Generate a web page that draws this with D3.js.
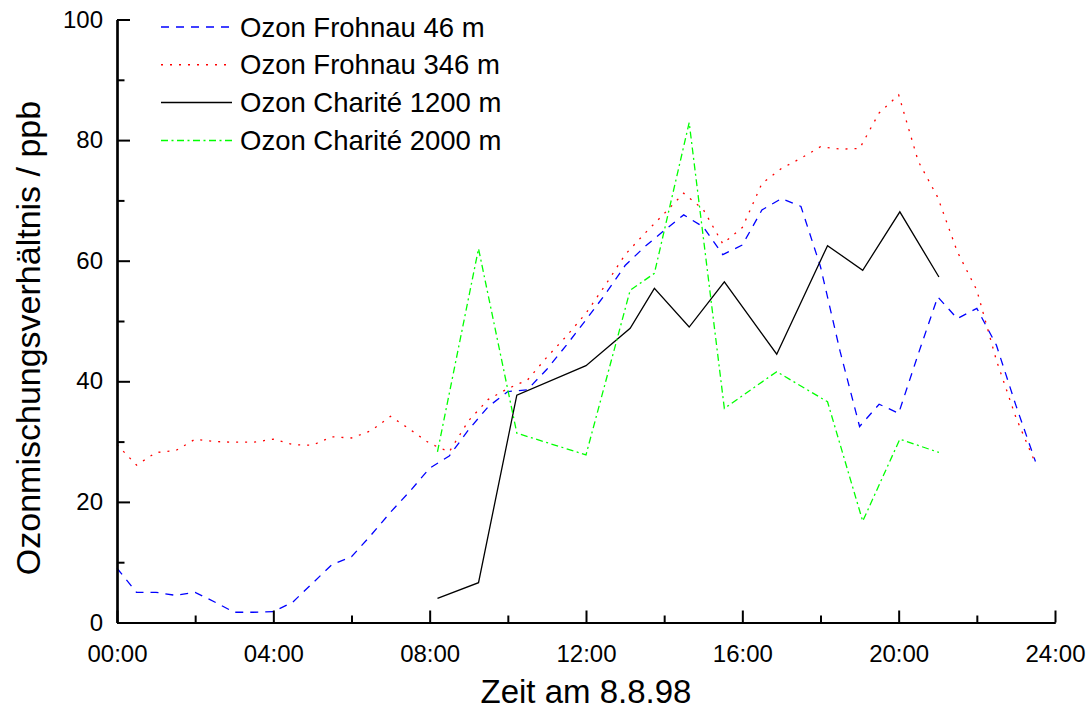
<!DOCTYPE html>
<html>
<head>
<meta charset="utf-8">
<script src="https://cdn.jsdelivr.net/npm/d3@7"></script>
<style>
  html, body { margin: 0; padding: 0; background: #ffffff; }
  svg { display: block; font-family: "Liberation Sans", Arial, sans-serif; }
</style>
</head>
<body>
<svg id="chart" width="1090" height="710"></svg>
<script>
// Ozone mixing ratios on 8 Aug 1998 (hours since midnight, ppb)
const frohnauHours = [0, 0.5, 1, 1.5, 2, 2.5, 3, 3.5, 4, 4.5, 5, 5.5, 6, 6.5, 7, 7.5, 8, 8.5,
  9, 9.5, 10, 10.5, 11, 11.5, 12, 12.5, 13, 13.5, 14, 14.5, 15, 15.5, 16, 16.5, 17, 17.5,
  18, 18.5, 19, 19.5, 20, 20.5, 21, 21.5, 22, 22.5, 23, 23.5];
const frohnau46 = [9.0, 5.0, 5.0, 4.5, 5.0, 3.4, 1.7, 1.7, 1.8, 3.4, 6.5, 9.6, 10.9, 14.5, 18.3, 21.8, 25.6, 27.6,
  32.0, 35.8, 38.3, 38.6, 42.0, 46.0, 50.2, 54.5, 59.2, 62.3, 65.0, 67.6, 65.6, 61.0, 62.6, 68.4, 70.3, 69.0,
  59.0, 45.0, 32.5, 36.2, 34.7, 44.5, 54.0, 50.4, 52.1, 46.0, 36.0, 26.7];
const frohnau346 = [29.5, 26.1, 28.2, 28.5, 30.4, 30.0, 29.9, 29.9, 30.4, 29.5, 29.4, 30.8, 30.6, 31.8, 34.2, 32.0, 29.7, 28.3,
  33.5, 37.0, 38.8, 40.2, 44.0, 47.5, 51.3, 56.0, 61.0, 64.5, 67.8, 71.2, 68.5, 62.8, 65.5, 72.8, 75.3, 77.0,
  78.9, 78.5, 78.6, 84.5, 87.5, 76.5, 70.5, 61.5, 55.1, 43.5, 34.0, 26.4];

const chariteHours = [8.2, 9.25, 10.23, 12.0, 13.13, 13.75, 14.64, 15.54, 16.88, 18.18, 19.08, 20.03, 21.03];
const charite1200 = [4.0, 6.6, 37.7, 42.6, 48.8, 55.4, 49.0, 56.5, 44.5, 62.5, 58.4, 68.1, 57.3];
const charite2000 = [28.3, 62.0, 31.4, 27.8, 55.1, 57.9, 82.9, 35.5, 41.6, 36.6, 16.8, 30.4, 28.2];

const xTickHours = [0, 4, 8, 12, 16, 20, 24];
const xTickLabels = ["00:00", "04:00", "08:00", "12:00", "16:00", "20:00", "24:00"];
const yTickValues = [0, 20, 40, 60, 80, 100];

const seriesNames = ["Ozon Frohnau 46 m", "Ozon Frohnau 346 m", "Ozon Charité 1200 m", "Ozon Charité 2000 m"];

const series = [
  { name: seriesNames[0], hours: frohnauHours, values: frohnau46, color: "#0000ff", dash: "8,7" },
  { name: seriesNames[1], hours: frohnauHours, values: frohnau346, color: "#ff0000", dash: "2,7" },
  { name: seriesNames[2], hours: chariteHours, values: charite1200, color: "#000000", dash: null },
  { name: seriesNames[3], hours: chariteHours, values: charite2000, color: "#00ff00", dash: "7,3.5,2,3.5" }
];

const svg = d3.select("#chart");
const margin = { left: 117, right: 35, top: 19.5, bottom: 87.5 };
const W = 1090, H = 710;

const x = d3.scaleLinear().domain([0, 24]).range([margin.left, W - margin.right]);
const y = d3.scaleLinear().domain([0, 100]).range([H - margin.bottom, margin.top]);

// data lines
const line = d3.line().x(d => x(d[0])).y(d => y(d[1]));
series.forEach(s => {
  const pts = s.hours.map((h, i) => [h, s.values[i]]);
  svg.append("path")
    .datum(pts)
    .attr("d", line)
    .attr("fill", "none")
    .attr("stroke", s.color)
    .attr("stroke-width", 1.3)
    .attr("stroke-dasharray", s.dash);
});

// axes with inward ticks
const xAxis = d3.axisBottom(x)
  .tickValues(xTickHours)
  .tickFormat((d, i) => xTickLabels[i])
  .tickSizeInner(-12).tickSizeOuter(0).tickPadding(22);
const gx = svg.append("g").attr("transform", `translate(0,${y(0)})`).call(xAxis);

const xMinor = d3.axisBottom(x)
  .tickValues(d3.range(2, 24, 4))
  .tickFormat("")
  .tickSizeInner(-7).tickSizeOuter(0);
const gxm = svg.append("g").attr("transform", `translate(0,${y(0)})`).call(xMinor);

const yAxis = d3.axisLeft(y)
  .tickValues(yTickValues)
  .tickFormat(d3.format("d"))
  .tickSizeInner(-13).tickSizeOuter(0).tickPadding(14);
const gy = svg.append("g").attr("transform", `translate(${x(0)},0)`).call(yAxis);

const yMinor = d3.axisLeft(y)
  .tickValues(d3.range(10, 100, 20))
  .tickFormat("")
  .tickSizeInner(-7.5).tickSizeOuter(0);
const gym = svg.append("g").attr("transform", `translate(${x(0)},0)`).call(yMinor);

[gx, gxm, gy, gym].forEach(g => {
  g.selectAll("path.domain").attr("stroke", "#000").attr("stroke-width", 2.2);
  g.selectAll(".tick line").attr("stroke", "#000").attr("stroke-width", 2);
  g.selectAll("text").attr("fill", "#000").style("font-size", "24px")
    .style("font-family", "'Liberation Sans', Arial, sans-serif");
});
gx.selectAll("text").attr("dy", "0.71em");

// axis titles
svg.append("text")
  .attr("x", (x(0) + x(24)) / 2)
  .attr("y", 703)
  .attr("text-anchor", "middle")
  .style("font-size", "33px")
  .text("Zeit am 8.8.98");

svg.append("text")
  .attr("transform", `translate(40,${(y(0) + y(100)) / 2 + 17}) rotate(-90)`)
  .attr("text-anchor", "middle")
  .style("font-size", "34px")
  .text("Ozonmischungsverhältnis / ppb");

// legend
const legend = svg.append("g");
series.forEach((s, i) => {
  const ly = 27 + i * 37.8;
  legend.append("line")
    .attr("x1", 161).attr("x2", 232)
    .attr("y1", ly).attr("y2", ly)
    .attr("stroke", s.color)
    .attr("stroke-width", 1.5)
    .attr("stroke-dasharray", s.dash);
  legend.append("text")
    .attr("x", 240)
    .attr("y", ly + 9.5)
    .style("font-size", "27.5px")
    .text(s.name);
});
</script>
</body>
</html>
